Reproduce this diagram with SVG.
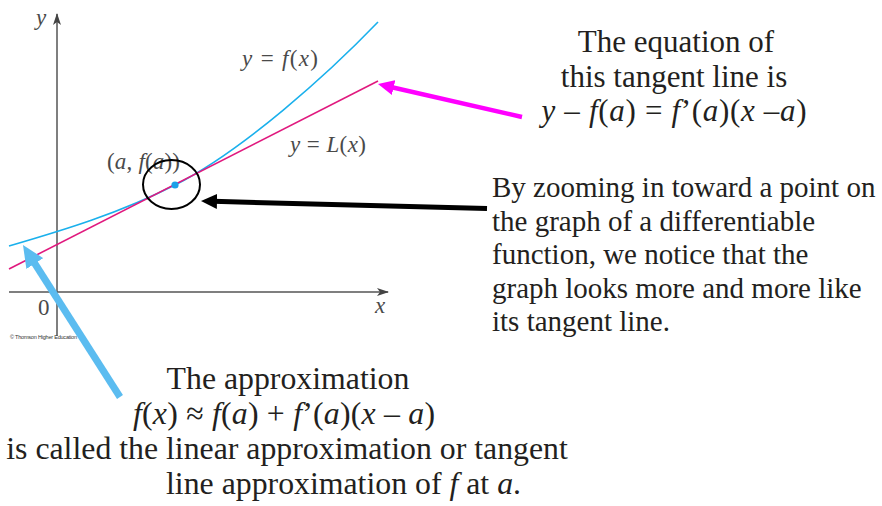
<svg xmlns="http://www.w3.org/2000/svg" width="882" height="506" viewBox="0 0 882 506">
<style>
.txt{font-family:"Liberation Serif","Times New Roman",serif;fill:#231f20}
.lbl{font-family:"Liberation Serif","Times New Roman",serif;fill:#4a4a4a;font-size:23px}
.it{font-style:italic}
.axis{stroke:#555;stroke-width:1.5;fill:none}
</style>
<defs>
<marker id="axhead" viewBox="0 0 12 8" refX="11" refY="4" markerWidth="12" markerHeight="8" markerUnits="userSpaceOnUse" orient="auto"><path d="M0,0 L12,4 L0,8 L3,4 z" fill="#444"/></marker>
<marker id="hBlack" viewBox="0 0 16 15" refX="4" refY="7.5" markerWidth="16" markerHeight="15" markerUnits="userSpaceOnUse" orient="auto"><path d="M0,0 L16,7.5 L0,15 z" fill="#000"/></marker>
<marker id="hMag" viewBox="0 0 16 15" refX="4" refY="7.5" markerWidth="16" markerHeight="15" markerUnits="userSpaceOnUse" orient="auto"><path d="M0,0 L16,7.5 L0,15 z" fill="#ff00ff"/></marker>
<marker id="hBlue" viewBox="0 0 22 20" refX="6" refY="10" markerWidth="22" markerHeight="20" markerUnits="userSpaceOnUse" orient="auto"><path d="M0,0 L22,10 L0,20 z" fill="#5bbcf0"/></marker>
</defs>

<g id="graph">
<line class="axis" x1="57" y1="336" x2="57" y2="14" marker-end="url(#axhead)"/>
<line class="axis" x1="9" y1="292" x2="388" y2="292" marker-end="url(#axhead)"/>
<text class="lbl it" x="36" y="25">y</text>
<text class="lbl" x="38" y="315">0</text>
<text class="lbl it" x="375" y="313">x</text>
<text x="10" y="339" style="font-family:'Liberation Sans',Arial,sans-serif;font-size:5.5px;fill:#333" textLength="67">© Thomson Higher Education</text>
<path id="fcurve" d="M9,246 C64,230 120,213 175,185 C243,150.4 328,74 378,22" fill="none" stroke="#1ab0ec" stroke-width="1.6"/>
<line id="tangent" x1="9" y1="269" x2="378" y2="81" stroke="#e0197e" stroke-width="1.6"/>
<text class="lbl" x="242" y="66" textLength="76"><tspan class="it">y</tspan> = <tspan class="it">f</tspan>(<tspan class="it">x</tspan>)</text>
<text class="lbl" x="290" y="152" textLength="76"><tspan class="it">y</tspan> = <tspan class="it">L</tspan>(<tspan class="it">x</tspan>)</text>
<text class="lbl" x="107" y="169" textLength="73">(<tspan class="it">a</tspan>, <tspan class="it">f</tspan>(<tspan class="it">a</tspan>))</text>
<circle cx="175" cy="185" r="3.6" fill="#1aa0e8"/>
<ellipse cx="171.5" cy="184.5" rx="28.5" ry="24.5" fill="none" stroke="#000" stroke-width="2"/>
</g>

<g id="text-tangent-eq" class="txt" font-size="31" text-anchor="middle">
<text x="676" y="52">The equation of</text>
<text x="674" y="87">this tangent line is</text>
<text x="674" y="121" textLength="265"><tspan class="it">y</tspan>  – <tspan class="it">f</tspan>(<tspan class="it">a</tspan>) = <tspan class="it">f</tspan>’(<tspan class="it">a</tspan>)(<tspan class="it">x</tspan> –<tspan class="it">a</tspan>)</text>
</g>

<g id="text-zoom" class="txt" font-size="29">
<text x="492" y="197">By zooming in toward a point on</text>
<text x="492" y="230.5">the graph of a differentiable</text>
<text x="492" y="264">function, we notice that the</text>
<text x="492" y="297.5">graph looks more and more like</text>
<text x="492" y="331">its tangent line.</text>
</g>

<g id="text-approx" class="txt" font-size="31.8">
<text x="288" y="389" text-anchor="middle">The approximation</text>
<text x="133" y="424" textLength="302"><tspan class="it">f</tspan>(<tspan class="it">x</tspan>) ≈ <tspan class="it">f</tspan>(<tspan class="it">a</tspan>) + <tspan class="it">f</tspan>’(<tspan class="it">a</tspan>)(<tspan class="it">x</tspan> – <tspan class="it">a</tspan>)</text>
<text x="287" y="459" text-anchor="middle">is called the linear approximation or tangent</text>
<text x="166" y="494">line approximation of <tspan class="it">f</tspan> at <tspan class="it">a</tspan>.</text>
</g>

<g id="connectors">
<line x1="487" y1="208.5" x2="213" y2="201.3" stroke="#000" stroke-width="5" marker-end="url(#hBlack)"/>
<line x1="522" y1="117" x2="389.7" y2="86.7" stroke="#ff00ff" stroke-width="4.5" marker-end="url(#hMag)"/>
<line x1="120" y1="397" x2="31.6" y2="258.5" stroke="#5bbcf0" stroke-width="7" marker-end="url(#hBlue)"/>
</g>
</svg>
